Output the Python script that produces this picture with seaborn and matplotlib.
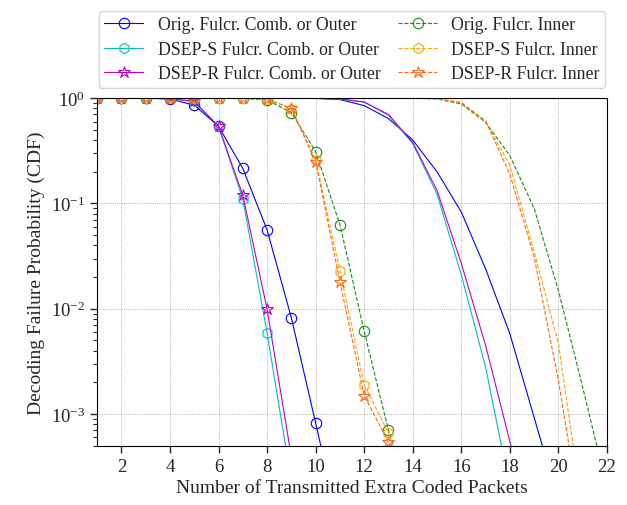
import numpy as np
import matplotlib
matplotlib.use("Agg")
import matplotlib.pyplot as plt
import seaborn as sns

# x positions
x_left_comb = [1, 2, 3, 4, 5, 6, 7, 8, 9, 10, 11]
x_left_inner = [1, 2, 3, 4, 5, 6, 7, 8, 9, 10, 11, 12, 13, 14]
x_right = list(range(1, 23))

# curves with markers (left group)
orig_comb_l = [1, 1, 1, 0.98, 0.86, 0.54, 0.215, 0.056, 0.0082, 0.00082, 0.00008]
dseps_comb_l = [1, 1, 1, 0.995, 0.93, 0.54, 0.11, 0.0059, 0.00023, 0.00001, 0.000001]
dsepr_comb_l = [1, 1, 1, 0.995, 0.93, 0.54, 0.12, 0.0099, 0.00039, 0.00001, 0.000001]
orig_inner_l = [1, 1, 1, 1, 1, 1, 0.995, 0.96, 0.73, 0.31, 0.063, 0.0061, 0.0007, 0.00015]
dseps_inner_l = [1, 1, 1, 1, 1, 1, 0.998, 0.98, 0.79, 0.26, 0.023, 0.0019, 0.00066, 0.00012]
dsepr_inner_l = [1, 1, 1, 1, 1, 1, 0.998, 0.98, 0.80, 0.25, 0.018, 0.0015, 0.00054, 0.0001]

# curves without markers (right group)
orig_comb_r = [1, 1, 1, 1, 1, 1, 1, 1, 1, 0.995, 0.97, 0.85, 0.64, 0.40, 0.20,
               0.083, 0.024, 0.0058, 0.00093, 0.00015, 0.00002, 0.000003]
dseps_comb_r = [1, 1, 1, 1, 1, 1, 1, 1, 1, 1, 0.98, 0.915, 0.69, 0.37, 0.123,
                0.021, 0.0028, 0.0002, 0.00001, 0.000001, 1e-7, 1e-8]
dsepr_comb_r = [1, 1, 1, 1, 1, 1, 1, 1, 1, 1, 0.985, 0.92, 0.70, 0.38, 0.133,
                0.027, 0.0045, 0.00055, 0.00007, 0.000005, 1e-7, 1e-8]
orig_inner_r = [1, 1, 1, 1, 1, 1, 1, 1, 1, 1, 1, 1, 1, 0.998, 0.985,
                0.88, 0.59, 0.285, 0.09, 0.015, 0.0018, 0.0002]
dseps_inner_r = [1, 1, 1, 1, 1, 1, 1, 1, 1, 1, 1, 1, 1, 0.999, 0.99,
                 0.90, 0.60, 0.23, 0.035, 0.0047, 0.00012, 0.00001]
dsepr_inner_r = [1, 1, 1, 1, 1, 1, 1, 1, 1, 1, 1, 1, 1, 0.999, 0.99,
                 0.91, 0.61, 0.19, 0.031, 0.0021, 0.00008, 0.000001]

labels = ["Orig. Fulcr. Comb. or Outer", "DSEP-S Fulcr. Comb. or Outer",
          "DSEP-R Fulcr. Comb. or Outer", "Orig. Fulcr. Inner",
          "DSEP-S Fulcr. Inner", "DSEP-R Fulcr. Inner"]
colors = ["#0000ff", "#00c0c0", "#c000c0", "#1a8a1a", "#ffa500", "#ff6a1a"]
markers = ["o", "h", "*", "o", "h", "*"]

sns.set_style("ticks")
plt.rcParams["font.family"] = ["Liberation Serif", "DejaVu Serif"]
plt.rcParams["mathtext.fontset"] = "stix"

fig = plt.figure(figsize=(6.27, 5.06), dpi=100)
ax = fig.add_axes([0.155, 0.117, 0.813, 0.687])

left_sets = [(x_left_comb, orig_comb_l), (x_left_comb, dseps_comb_l), (x_left_comb, dsepr_comb_l),
             (x_left_inner, orig_inner_l), (x_left_inner, dseps_inner_l), (x_left_inner, dsepr_inner_l)]
right_sets = [orig_comb_r, dseps_comb_r, dsepr_comb_r, orig_inner_r, dseps_inner_r, dsepr_inner_r]

for i in range(6):
    ls = "-" if i < 3 else "--"
    xs, ys = left_sets[i]
    sns.lineplot(x=xs, y=ys, ax=ax, color=colors[i], linestyle=ls, linewidth=0.8,
                 marker=markers[i], markersize=9 if markers[i] == "*" else 7.5,
                 markerfacecolor="none", markeredgecolor=colors[i],
                 markeredgewidth=0.8, label=labels[i])
    sns.lineplot(x=x_right, y=right_sets[i], ax=ax, color=colors[i], linestyle=ls,
                 linewidth=0.8, label="_nolegend_")

ax.set_yscale("log")
ax.set_xlim(1, 22)
ax.set_ylim(5e-4, 1)
ax.set_xticks(range(2, 23, 2))
ax.grid(True, which="major", linestyle=":", color="#999999", linewidth=0.6)
ax.tick_params(axis="both", which="major", labelsize=13.5, direction="out", length=5, width=1)
ax.tick_params(axis="y", which="minor", direction="out", length=3, width=0.8)
for s in ax.spines.values():
    s.set_color("black")
    s.set_linewidth(0.8)

ax.set_xlabel("Number of Transmitted Extra Coded Packets", fontsize=14, labelpad=3)
ax.set_ylabel("Decoding Failure Probability (CDF)", fontsize=14, labelpad=4)

ax.legend(loc="lower center", bbox_to_anchor=(0.5, 1.03), ncol=2, fontsize=12.8,
          handlelength=2.2, columnspacing=1.0, labelspacing=0.42, borderpad=0.3,
          borderaxespad=0.0, frameon=True, edgecolor="#cccccc")

fig.savefig("out.png", dpi=100)
